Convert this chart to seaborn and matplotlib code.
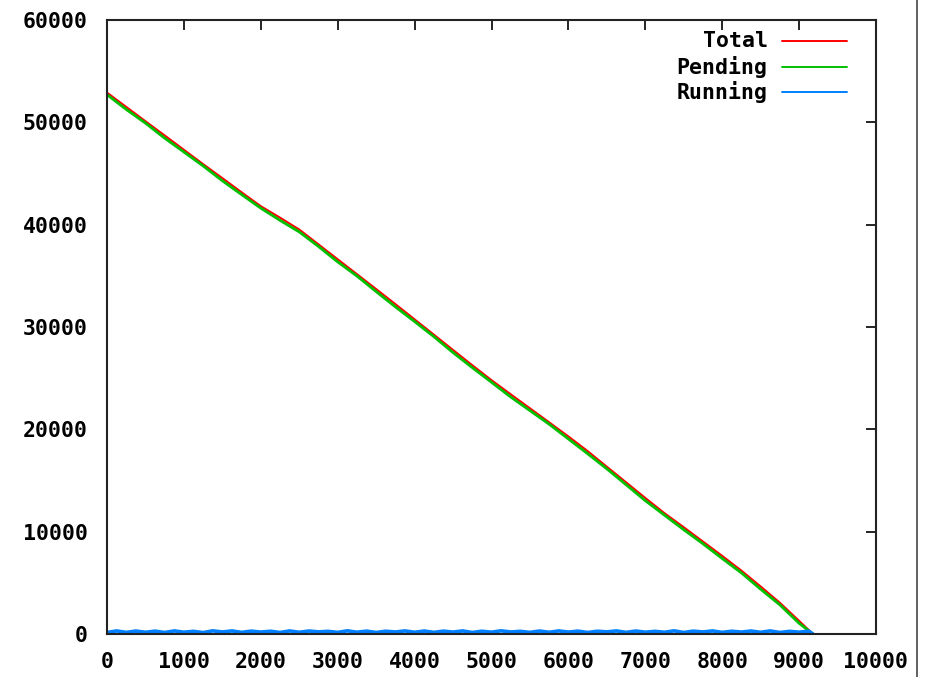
import numpy as np
import pandas as pd
import matplotlib
matplotlib.use("Agg")
import matplotlib.pyplot as plt
from matplotlib.lines import Line2D
import seaborn as sns

# ---- data ----
time = [0, 250, 500, 750, 1000, 1250, 1500, 1750, 2000, 2250, 2500, 2750,
        3000, 3250, 3500, 3750, 4000, 4250, 4500, 4750, 5000, 5250, 5500,
        5750, 6000, 6250, 6500, 6750, 7000, 7250, 7500, 7750, 8000, 8250,
        8500, 8750, 9000, 9180]
total = [52900, 51500, 50100, 48710, 47310, 45910, 44540, 43160, 41800,
         40680, 39520, 38070, 36610, 35160, 33700, 32230, 30740, 29250,
         27750, 26260, 24800, 23420, 22050, 20680, 19300, 17870, 16340,
         14820, 13290, 11800, 10430, 9030, 7630, 6190, 4640, 3050, 1280, 0]
running_at_time = [200, 240, 180, 260, 210, 170, 250, 220, 190, 260, 230,
                   200, 250, 180, 240, 260, 210, 190, 250, 230, 200, 260,
                   220, 180, 240, 250, 200, 230, 260, 190, 240, 210, 250,
                   220, 260, 200, 230, 0]
pending = [t - r for t, r in zip(total, running_at_time)]

run_time = list(range(0, 9180, 125)) + [9180]
running = [150, 300, 160, 290, 170, 280, 150, 300, 180, 260, 140, 310,
           200, 300, 160, 280, 190, 270, 150, 300, 170, 290, 210, 260,
           160, 310, 180, 280, 150, 270, 200, 300, 170, 290, 160, 280,
           190, 300, 150, 270, 180, 310, 200, 260, 160, 290, 170, 300,
           190, 280, 150, 270, 210, 300, 160, 290, 180, 260, 170, 310,
           150, 280, 200, 300, 160, 270, 190, 290, 170, 300, 150, 260,
           180, 280, 0]

y_ticks = [0, 10000, 20000, 30000, 40000, 50000, 60000]
x_ticks = [0, 1000, 2000, 3000, 4000, 5000, 6000, 7000, 8000, 9000, 10000]
series_names = ["Total", "Pending", "Running"]
series_colors = ["#ff0000", "#00c000", "#0080ff"]

# ---- plotting ----
sns.set_style("white")
plt.rcParams["font.family"] = ["DejaVu Sans Mono", "DejaVu Sans"]
plt.rcParams["font.weight"] = "bold"

fig = plt.figure(figsize=(9.33, 6.77), dpi=100)
ax = fig.add_axes([0.1147, 0.0635, 0.8242, 0.907])

df_main = pd.DataFrame({"time": time, "Total": total, "Pending": pending})
df_run = pd.DataFrame({"time": run_time, "Running": running})

sns.lineplot(data=df_main, x="time", y="Total", color=series_colors[0],
             lw=1.5, ax=ax)
sns.lineplot(data=df_main, x="time", y="Pending", color=series_colors[1],
             lw=2.0, ax=ax)
sns.lineplot(data=df_run, x="time", y="Running", color=series_colors[2],
             lw=2.6, ax=ax)

ax.set_xlim(0, 10000)
ax.set_ylim(0, 60000)
ax.set_xticks(x_ticks)
ax.set_yticks(y_ticks)
ax.set_xticklabels([str(v) for v in x_ticks])
ax.set_yticklabels([str(v) for v in y_ticks])
ax.set_xlabel("")
ax.set_ylabel("")

ax.tick_params(axis="both", direction="in", length=7, width=1.2,
               top=True, right=True, labelsize=15.5, colors="black")
ax.tick_params(axis="y", pad=14)
ax.tick_params(axis="x", pad=13)
for lab in ax.get_xticklabels() + ax.get_yticklabels():
    lab.set_fontweight("bold")

for sp in ax.spines.values():
    sp.set_visible(True)
    sp.set_color("#222222")
    sp.set_linewidth(1.5)

# legend (gnuplot style: right-aligned text, sample to the right)
leg_rows = [0.966, 0.924, 0.882]
for name, col, yy in zip(series_names, series_colors, leg_rows):
    ax.text(0.859, yy, name, transform=ax.transAxes, ha="right", va="center",
            fontsize=15.5, fontweight="bold", color="black")
    ax.add_line(Line2D([0.878, 0.962], [yy, yy], transform=ax.transAxes,
                       color=col, lw=1.4))

# grey vertical border at right of the image
fig.add_artist(Line2D([0.983, 0.983], [0, 1], transform=fig.transFigure,
                      color="#555555", lw=1.3))

fig.savefig("out.png", dpi=100)
